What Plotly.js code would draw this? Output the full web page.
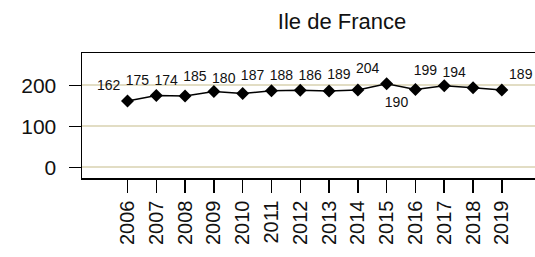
<!DOCTYPE html>
<html>
<head>
<meta charset="utf-8">
<script src="https://cdn.plot.ly/plotly-3.0.1.min.js"></script>
<style>
html, body { margin: 0; padding: 0; overflow: hidden; background: #fff; }
#chart { width: 560px; height: 257px; }
</style>
</head>
<body>
<div id="chart"></div>
<script>
const years = [2006, 2007, 2008, 2009, 2010, 2011, 2012, 2013, 2014, 2015, 2016, 2017, 2018, 2019];
const values = [162, 175, 174, 185, 180, 187, 188, 186, 189, 204, 190, 199, 194, 189];
const yearLabels = years.map(String);
const labelPositions = ['top left', 'top left', 'top left', 'top left', 'top left', 'top left', 'top left',
  'top left', 'top left', 'top left', 'bottom left', 'top left', 'top left', 'top right'];
const yTicks = [0, 100, 200];

const trace = {
  x: years,
  y: values,
  mode: 'lines+markers+text',
  text: values.map(String),
  textposition: labelPositions,
  textfont: { family: 'Liberation Sans, Arial, sans-serif', size: 14, color: '#111' },
  line: { color: '#000', width: 1.5 },
  marker: { symbol: 'diamond', size: 10, color: '#000' },
  cliponaxis: false,
  hoverinfo: 'none'
};

const layout = {
  width: 560,
  height: 257,
  margin: { l: 82, r: 0, t: 53, b: 79 },
  paper_bgcolor: '#fff',
  plot_bgcolor: '#fff',
  showlegend: false,
  font: { family: 'Liberation Sans, Arial, sans-serif', color: '#111' },
  title: {
    text: 'Ile de France',
    font: { family: 'Liberation Sans, Arial, sans-serif', size: 22, color: '#111' },
    xref: 'container', x: 342 / 560, xanchor: 'center',
    yref: 'container', y: 1 - 21 / 257, yanchor: 'middle'
  },
  xaxis: {
    range: [2004.42, 2021.02],
    tickvals: years,
    ticktext: yearLabels,
    tickangle: -90,
    ticks: 'outside',
    ticklen: 13,
    tickwidth: 1.5,
    tickcolor: '#000',
    tickfont: { size: 20, color: '#111' },
    showline: true,
    linecolor: '#000',
    linewidth: 1.5,
    mirror: true,
    showgrid: false,
    zeroline: false
  },
  yaxis: {
    range: [-26, 279],
    tickvals: yTicks,
    ticktext: yTicks.map(String),
    ticks: 'outside',
    ticklen: 12,
    tickwidth: 1.5,
    tickcolor: '#000',
    tickfont: { size: 21, color: '#111' },
    ticklabelstandoff: 8,
    showline: true,
    linecolor: '#000',
    linewidth: 1.5,
    mirror: true,
    showgrid: true,
    gridcolor: '#e2ddc4',
    gridwidth: 2,
    zeroline: false
  }
};

Plotly.newPlot('chart', [trace], layout, { staticPlot: true, displayModeBar: false });
</script>
</body>
</html>
